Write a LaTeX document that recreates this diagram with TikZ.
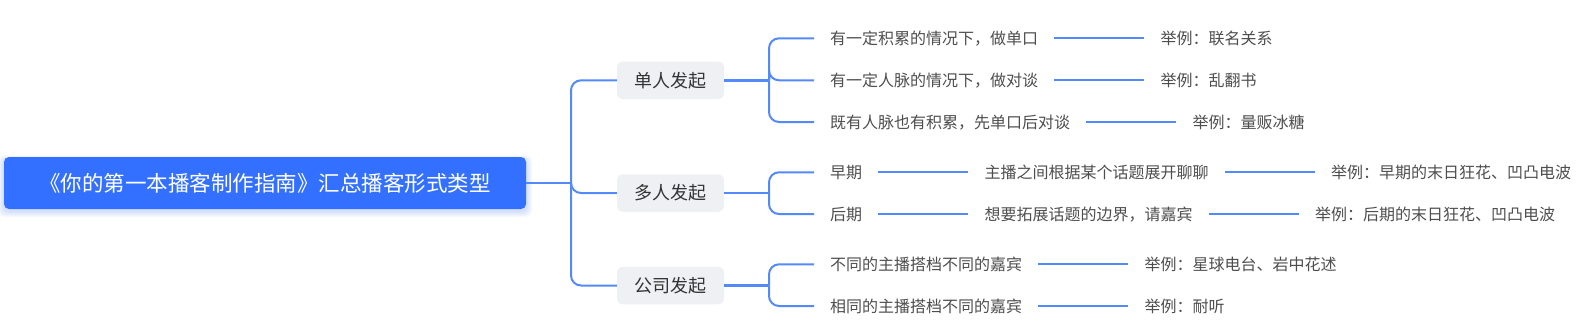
\documentclass[tikz,border=0pt]{standalone}
\usepackage{fontspec}
\setmainfont{Noto Sans CJK SC}
\usetikzlibrary{positioning}
\definecolor{rootblue}{RGB}{51,112,255}
\definecolor{linkblue}{RGB}{84,137,250}
\definecolor{boxgray}{RGB}{239,240,243}
\definecolor{txtdark}{RGB}{51,51,51}
\definecolor{txtgray}{RGB}{78,78,78}
\begin{document}
\begin{tikzpicture}[x=1pt,y=-1pt,
  rootbox/.style={fill=rootblue, rounded corners=5pt, minimum width=522pt, minimum height=52pt,
    text=white, font=\fontsize{21.5}{24}\selectfont, inner sep=0pt},
  topicbox/.style={fill=boxgray, rounded corners=6pt, minimum width=107pt, minimum height=37.5pt,
    text=txtdark, font=\fontsize{18}{20}\selectfont, inner sep=0pt},
  leaf/.style={anchor=west, inner sep=0pt, text=txtgray, font=\fontsize{16}{18}\selectfont,
    text height=13.3pt, text depth=1.1pt},
  link/.style={draw=linkblue, line width=2pt, rounded corners=10pt},
  node distance=122pt]
\useasboundingbox (0,0) rectangle (1578,333);
\fill[white] (0,0) rectangle (1578,333);
% soft glow of the root box
\foreach \s in {1,...,6}
  \fill[rootblue, opacity=0.035, rounded corners=6pt] (4-\s,157-\s*0.6+2) rectangle (526+\s,209+\s+2);
% nodes
\node[rootbox] (root) at (265,183) {《你的第一本播客制作指南》汇总播客形式类型};
\node[topicbox] (t1) at (670.5,80.3) {单人发起};
\node[topicbox] (t2) at (670.5,193) {多人发起};
\node[topicbox] (t3) at (670.5,285.5) {公司发起};

\node[leaf] (a1) at (830,38.3) {有一定积累的情况下，做单口};
\node[leaf, right=of a1] (a1e) {举例：联名关系};
\node[leaf] (a2) at (830,80.3) {有一定人脉的情况下，做对谈};
\node[leaf, right=of a2] (a2e) {举例：乱翻书};
\node[leaf] (a3) at (830,122) {既有人脉也有积累，先单口后对谈};
\node[leaf, right=of a3] (a3e) {举例：量贩冰糖};

\node[leaf] (b1) at (830,172.3) {早期};
\node[leaf, right=of b1] (b1m) {主播之间根据某个话题展开聊聊};
\node[leaf, right=of b1m] (b1e) {举例：早期的末日狂花、凹凸电波};
\node[leaf] (b2) at (830,214) {后期};
\node[leaf, right=of b2] (b2m) {想要拓展话题的边界，请嘉宾};
\node[leaf, right=of b2m] (b2e) {举例：后期的末日狂花、凹凸电波};

\node[leaf] (c1) at (830,264.3) {不同的主播搭档不同的嘉宾};
\node[leaf, right=of c1] (c1e) {举例：星球电台、岩中花述};
\node[leaf] (c2) at (830,306) {相同的主播搭档不同的嘉宾};
\node[leaf, right=of c2] (c2e) {举例：耐听};

% connectors
\coordinate (hub) at (571,183);
\draw[link] (root.east) -- (hub);
\draw[link] (hub) |- (t1.west);
\draw[link] (hub) |- (t2.west);
\draw[link] (hub) |- (t3.west);

\coordinate (j1) at (769,80.3);
\coordinate (j2) at (769,193);
\coordinate (j3) at (769,285.5);
\draw[link, line width=2.6pt] (t1.east) -- (j1);
\draw[link, line width=2.6pt] (t2.east) -- (j2);
\draw[link, line width=2.6pt] (t3.east) -- (j3);
\foreach \j/\n in {j1/a1, j1/a2, j1/a3, j2/b1, j2/b2, j3/c1, j3/c2}
  \draw[link] (\j) |- ([xshift=-16pt]\n.west);

\foreach \a/\b in {a1/a1e, a2/a2e, a3/a3e, b1/b1m, b1m/b1e, b2/b2m, b2m/b2e, c1/c1e, c2/c2e}
  \draw[link] ([xshift=16pt]\a.east) -- ([xshift=-16pt]\b.west);
\end{tikzpicture}
\end{document}
